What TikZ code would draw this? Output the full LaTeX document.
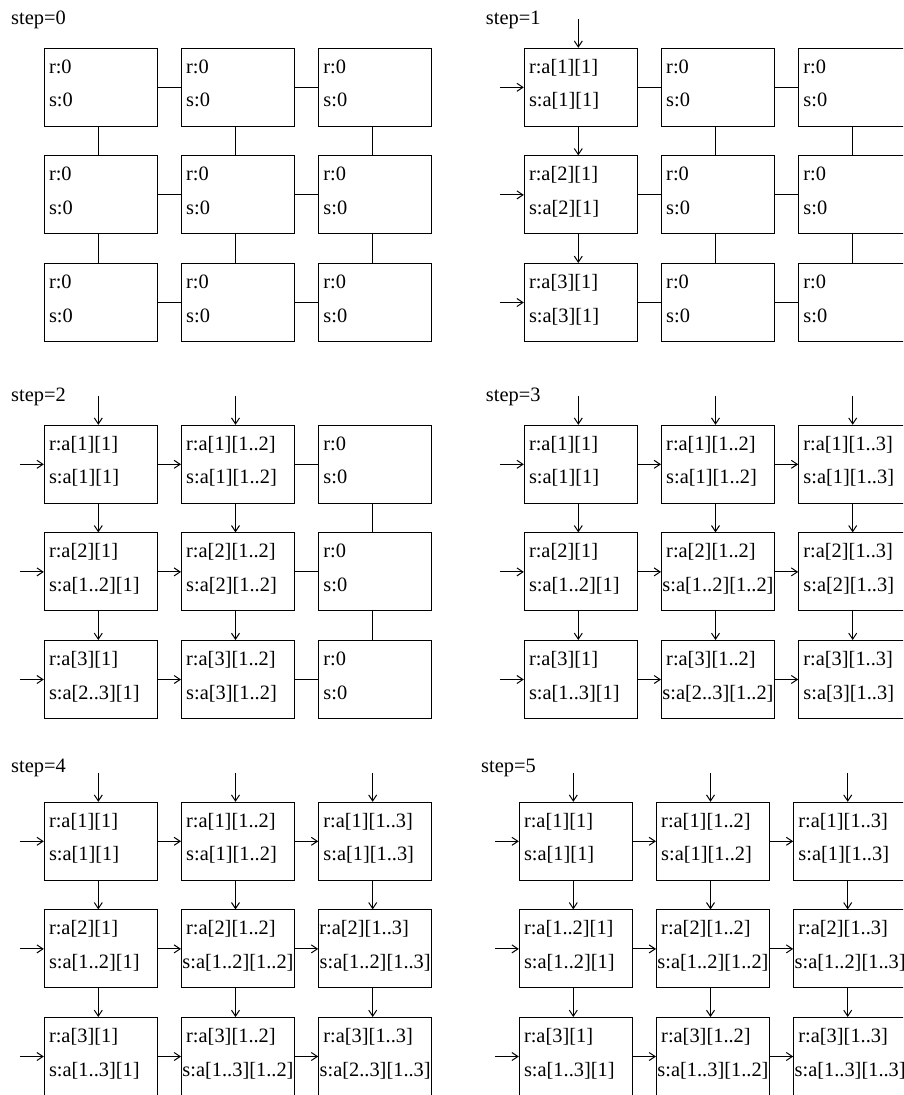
\documentclass[tikz,border=0pt]{standalone}
\usepackage{fontspec}
\setmainfont{Liberation Serif}
\usetikzlibrary{arrows.meta}
\tikzset{
 cell/.style={draw, line width=1pt, minimum width=113pt, minimum height=78pt, inner sep=0pt},
 txt/.style={inner sep=0pt, font=\fontsize{20.4}{24}\selectfont},
 link/.style={draw, line width=1pt},
 arr/.style={draw, line width=1pt, -{Straight Barb[length=6pt,width=8pt]}},
}
\newcommand\gridpanel[3]{\foreach \r in {1,2,3}{\foreach \c in {1,2,3}{\node[cell] (#1-\r-\c) at ({#2+(\c-1)*137.2+56.5},{#3+(\r-1)*107.6+39}) {};}}}
\newcommand\Rtxt[2]{\node[txt,anchor=base west] (#1-r) at ([shift={(5,25.5)}]#1.north west) {#2};}
\newcommand\Rnar[2]{\node[txt,anchor=base west] (#1-r) at ([shift={(1,25.5)}]#1.north west) {#2};}
\newcommand\Stxt[2]{\node[txt,anchor=base west] (#1-s) at ([shift={(5,59)}]#1.north west) {#2};}
\newcommand\Sctr[2]{\node[txt,anchor=base] (#1-s) at ([shift={(0,59)}]#1.north) {#2};}
\newcommand\Hc[3]{\draw[#1] (#2.east) -- (#3.west);}
\newcommand\Vc[3]{\draw[#1] ([xshift=-2.5pt]#2.south) -- ([xshift=-2.5pt]#3.north);}
\newcommand\Top[1]{\coordinate (#1-t) at ([shift={(-2.5,-29)}]#1.north); \draw[arr] (#1-t) -- ([xshift=-2.5pt]#1.north);}
\newcommand\Lft[1]{\coordinate (#1-l) at ([xshift=-24pt]#1.west); \draw[arr] (#1-l) -- (#1.west);}
\newcommand\Hall[4]{\foreach \r in {1,2,3}{\Hc{#4}{#1-\r-#2}{#1-\r-#3}}}
\newcommand\Vall[3]{\Vc{#3}{#1-1-#2}{#1-2-#2}\Vc{#3}{#1-2-#2}{#1-3-#2}}
\newcommand\Zero[1]{\Rtxt{#1}{r:0}\Stxt{#1}{s:0}}
\begin{document}
\begin{tikzpicture}[x=1pt,y=-1pt]
\useasboundingbox (0,0) rectangle (903,1095);
\fill[white] (0,0) rectangle (903,1095);
\clip (0,0) rectangle (903,1095);

% ---------- step 0 ----------
\node[txt,anchor=base west] (lab0) at (11,24) {step=0};
\gridpanel{P0}{44.3}{48.3}
\foreach \r in {1,2,3}{\foreach \c in {1,2,3}{\Zero{P0-\r-\c}}}
\Hall{P0}{1}{2}{link}\Hall{P0}{2}{3}{link}
\Vall{P0}{1}{link}\Vall{P0}{2}{link}\Vall{P0}{3}{link}

% ---------- step 1 ----------
\node[txt,anchor=base west] (lab1) at (485.7,24) {step=1};
\gridpanel{P1}{524.3}{48.3}
\Rtxt{P1-1-1}{r:a[1][1]}\Stxt{P1-1-1}{s:a[1][1]}
\Rtxt{P1-2-1}{r:a[2][1]}\Stxt{P1-2-1}{s:a[2][1]}
\Rtxt{P1-3-1}{r:a[3][1]}\Stxt{P1-3-1}{s:a[3][1]}
\foreach \r in {1,2,3}{\foreach \c in {2,3}{\Zero{P1-\r-\c}}}
\Top{P1-1-1}
\foreach \r in {1,2,3}{\Lft{P1-\r-1}}
\Hall{P1}{1}{2}{link}\Hall{P1}{2}{3}{link}
\Vall{P1}{1}{arr}\Vall{P1}{2}{link}\Vall{P1}{3}{link}

% ---------- step 2 ----------
\node[txt,anchor=base west] (lab2) at (11,401.5) {step=2};
\gridpanel{P2}{44.3}{425.3}
\Rtxt{P2-1-1}{r:a[1][1]}\Stxt{P2-1-1}{s:a[1][1]}
\Rtxt{P2-1-2}{r:a[1][1..2]}\Stxt{P2-1-2}{s:a[1][1..2]}
\Rtxt{P2-2-1}{r:a[2][1]}\Stxt{P2-2-1}{s:a[1..2][1]}
\Rtxt{P2-2-2}{r:a[2][1..2]}\Stxt{P2-2-2}{s:a[2][1..2]}
\Rtxt{P2-3-1}{r:a[3][1]}\Stxt{P2-3-1}{s:a[2..3][1]}
\Rtxt{P2-3-2}{r:a[3][1..2]}\Stxt{P2-3-2}{s:a[3][1..2]}
\foreach \r in {1,2,3}{\Zero{P2-\r-3}}
\Top{P2-1-1}\Top{P2-1-2}
\foreach \r in {1,2,3}{\Lft{P2-\r-1}}
\Hall{P2}{1}{2}{arr}\Hall{P2}{2}{3}{link}
\Vall{P2}{1}{arr}\Vall{P2}{2}{arr}\Vall{P2}{3}{link}

% ---------- step 3 ----------
\node[txt,anchor=base west] (lab3) at (485.7,401) {step=3};
\gridpanel{P3}{524.3}{425.3}
\Rtxt{P3-1-1}{r:a[1][1]}\Stxt{P3-1-1}{s:a[1][1]}
\Rtxt{P3-1-2}{r:a[1][1..2]}\Stxt{P3-1-2}{s:a[1][1..2]}
\Rtxt{P3-1-3}{r:a[1][1..3]}\Stxt{P3-1-3}{s:a[1][1..3]}
\Rtxt{P3-2-1}{r:a[2][1]}\Stxt{P3-2-1}{s:a[1..2][1]}
\Rtxt{P3-2-2}{r:a[2][1..2]}\Sctr{P3-2-2}{s:a[1..2][1..2]}
\Rtxt{P3-2-3}{r:a[2][1..3]}\Stxt{P3-2-3}{s:a[2][1..3]}
\Rtxt{P3-3-1}{r:a[3][1]}\Stxt{P3-3-1}{s:a[1..3][1]}
\Rtxt{P3-3-2}{r:a[3][1..2]}\Sctr{P3-3-2}{s:a[2..3][1..2]}
\Rtxt{P3-3-3}{r:a[3][1..3]}\Stxt{P3-3-3}{s:a[3][1..3]}
\Top{P3-1-1}\Top{P3-1-2}\Top{P3-1-3}
\foreach \r in {1,2,3}{\Lft{P3-\r-1}}
\Hall{P3}{1}{2}{arr}\Hall{P3}{2}{3}{arr}
\Vall{P3}{1}{arr}\Vall{P3}{2}{arr}\Vall{P3}{3}{arr}

% ---------- step 4 ----------
\node[txt,anchor=base west] (lab4) at (11,772.3) {step=4};
\gridpanel{P4}{44.3}{802.3}
\Rtxt{P4-1-1}{r:a[1][1]}\Stxt{P4-1-1}{s:a[1][1]}
\Rtxt{P4-1-2}{r:a[1][1..2]}\Stxt{P4-1-2}{s:a[1][1..2]}
\Rtxt{P4-1-3}{r:a[1][1..3]}\Stxt{P4-1-3}{s:a[1][1..3]}
\Rtxt{P4-2-1}{r:a[2][1]}\Stxt{P4-2-1}{s:a[1..2][1]}
\Rtxt{P4-2-2}{r:a[2][1..2]}\Sctr{P4-2-2}{s:a[1..2][1..2]}
\Rnar{P4-2-3}{r:a[2][1..3]}\Sctr{P4-2-3}{s:a[1..2][1..3]}
\Rtxt{P4-3-1}{r:a[3][1]}\Stxt{P4-3-1}{s:a[1..3][1]}
\Rtxt{P4-3-2}{r:a[3][1..2]}\Sctr{P4-3-2}{s:a[1..3][1..2]}
\Rtxt{P4-3-3}{r:a[3][1..3]}\Sctr{P4-3-3}{s:a[2..3][1..3]}
\Top{P4-1-1}\Top{P4-1-2}\Top{P4-1-3}
\foreach \r in {1,2,3}{\Lft{P4-\r-1}}
\Hall{P4}{1}{2}{arr}\Hall{P4}{2}{3}{arr}
\Vall{P4}{1}{arr}\Vall{P4}{2}{arr}\Vall{P4}{3}{arr}

% ---------- step 5 ----------
\node[txt,anchor=base west] (lab5) at (481,772.3) {step=5};
\gridpanel{P5}{519.3}{802.3}
\Rtxt{P5-1-1}{r:a[1][1]}\Stxt{P5-1-1}{s:a[1][1]}
\Rtxt{P5-1-2}{r:a[1][1..2]}\Stxt{P5-1-2}{s:a[1][1..2]}
\Rtxt{P5-1-3}{r:a[1][1..3]}\Stxt{P5-1-3}{s:a[1][1..3]}
\Rtxt{P5-2-1}{r:a[1..2][1]}\Stxt{P5-2-1}{s:a[1..2][1]}
\Rtxt{P5-2-2}{r:a[2][1..2]}\Sctr{P5-2-2}{s:a[1..2][1..2]}
\Rtxt{P5-2-3}{r:a[2][1..3]}\Sctr{P5-2-3}{s:a[1..2][1..3]}
\Rtxt{P5-3-1}{r:a[3][1]}\Stxt{P5-3-1}{s:a[1..3][1]}
\Rtxt{P5-3-2}{r:a[3][1..2]}\Sctr{P5-3-2}{s:a[1..3][1..2]}
\Rtxt{P5-3-3}{r:a[3][1..3]}\Sctr{P5-3-3}{s:a[1..3][1..3]}
\Top{P5-1-1}\Top{P5-1-2}\Top{P5-1-3}
\foreach \r in {1,2,3}{\Lft{P5-\r-1}}
\Hall{P5}{1}{2}{arr}\Hall{P5}{2}{3}{arr}
\Vall{P5}{1}{arr}\Vall{P5}{2}{arr}\Vall{P5}{3}{arr}
\end{tikzpicture}
\end{document}
